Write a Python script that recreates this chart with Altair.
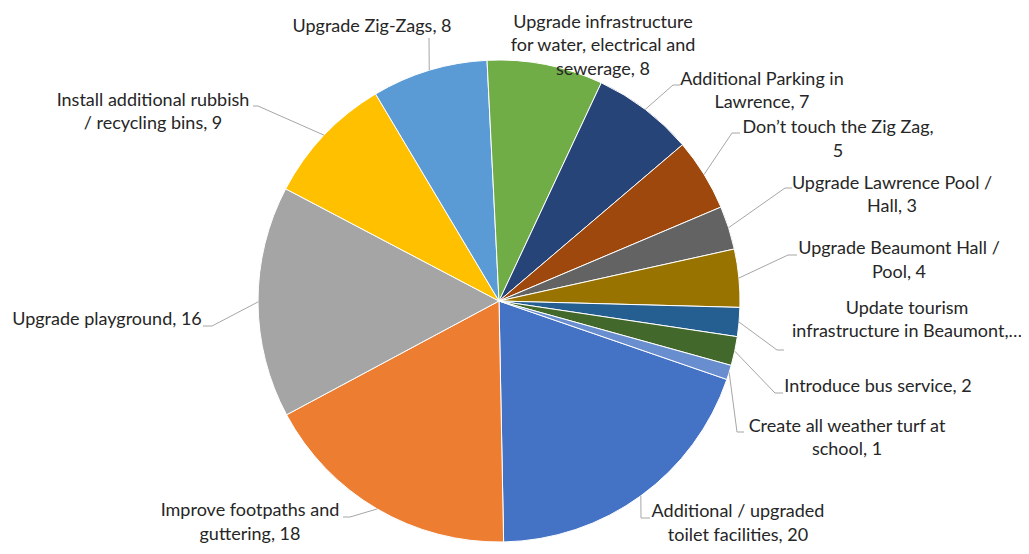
import math
import altair as alt
import pandas as pd

# ---------------- data ----------------
categories = [
    "Additional / upgraded toilet facilities",
    "Improve footpaths and guttering",
    "Upgrade playground",
    "Install additional rubbish / recycling bins",
    "Upgrade Zig-Zags",
    "Upgrade infrastructure for water, electrical and sewerage",
    "Additional Parking in Lawrence",
    "Don’t touch the Zig Zag",
    "Upgrade Lawrence Pool / Hall",
    "Upgrade Beaumont Hall / Pool",
    "Update tourism infrastructure in Beaumont",
    "Introduce bus service",
    "Create all weather turf at school",
]
values = [20, 18, 16, 9, 8, 8, 7, 5, 3, 4, 2, 2, 1]
label_text = [
    "Additional / upgraded\ntoilet facilities, 20",
    "Improve footpaths and\nguttering, 18",
    "Upgrade playground, 16",
    "Install additional rubbish\n/ recycling bins, 9",
    "Upgrade Zig-Zags, 8",
    "Upgrade infrastructure\nfor water, electrical and\nsewerage, 8",
    "Additional Parking in\nLawrence, 7",
    "Don’t touch the Zig Zag,\n5",
    "Upgrade Lawrence Pool /\nHall, 3",
    "Upgrade Beaumont Hall /\nPool, 4",
    "Update tourism\ninfrastructure in Beaumont,…",
    "Introduce bus service, 2",
    "Create all weather turf at\nschool, 1",
]

# ---------------- style / layout ----------------
colors = ["#4472C4", "#ED7D31", "#A5A5A5", "#FFC000", "#5B9BD5", "#70AD47",
          "#264478", "#9E480E", "#636363", "#997300", "#255E91", "#43682B", "#698ED0"]
W, H = 1013, 538          # plot size in px
CX, CY = 491, 293         # pie centre in px
R = 241                   # pie radius in px
START_DEG = 109.0         # angle of first slice (clockwise from 12 o'clock)
LH = 23.5                 # label line height

# label block centres (px relative to pie centre, y down)
label_pos = [(239, 223), (-249, 222), (-392, 19), (-346, -188.5), (-127, -274),
             (104, -255), (263, -209.5), (339, -161), (393, -105.5), (400, -40),
             (408, 19.5), (379, 86), (348, 137.5)]
# leader elbow and end points (px relative to pie centre), None = no leader
leader_pts = [
    [(142, 217), (151, 217)],
    [(-149, 216), (-156, 216)],
    [(-287, 25), (-296, 25)],
    [(-241, -195), (-246, -195)],
    [(-70, -263)],
    None,
    [(174, -216), (181, -216)],
    [(233, -168), (241, -168)],
    [(286, -113), (293, -113)],
    [(289, -46), (298, -46)],
    [(278, 49), (285, 49)],
    [(276, 92), (284, 92)],
    [(238, 131), (245, 131)],
]

# ---------------- tables ----------------
total = sum(values)
pie_df = pd.DataFrame({"cat": categories, "value": values, "idx": list(range(len(values)))})

lab_df = pd.DataFrame({
    "cat": categories,
    "label": label_text,
    "x": [p[0] for p in label_pos],
    # Vega places the first line at y; shift so the block is centred
    "y": [p[1] - (t.count("\n")) * LH / 2 for p, t in zip(label_pos, label_text)],
})

rows = []
cum = 0.0
for i, (c, v) in enumerate(zip(categories, values)):
    mid = math.radians(START_DEG + (cum + v / 2) / total * 360.0)
    cum += v
    pts = leader_pts[i]
    if pts is None:
        continue
    seq = [(R * math.sin(mid), -R * math.cos(mid))] + list(pts)
    for k, (px, py) in enumerate(seq):
        rows.append({"cat": c, "pt": k, "x": px, "y": py})
lead_df = pd.DataFrame(rows)

xs = alt.Scale(domain=[-CX, W - CX], nice=False, zero=False)
ys = alt.Scale(domain=[-CY, H - CY], nice=False, zero=False, reverse=True)

a0 = math.radians(START_DEG)
pie = alt.Chart(pie_df).mark_arc(outerRadius=R, stroke="white", strokeWidth=1).encode(
    theta=alt.Theta("value:Q", stack=True, scale=alt.Scale(range=[a0, a0 + 2 * math.pi])),
    color=alt.Color("cat:N", scale=alt.Scale(domain=categories, range=colors), legend=None),
    order=alt.Order("idx:Q"),
    x=alt.value(CX),
    y=alt.value(CY),
)

leaders = alt.Chart(lead_df).mark_line(color="#A6A6A6", strokeWidth=1).encode(
    x=alt.X("x:Q", scale=xs, axis=None),
    y=alt.Y("y:Q", scale=ys, axis=None),
    detail="cat:N",
    order="pt:Q",
)

labels = alt.Chart(lab_df).mark_text(
    font="Lato", fontSize=18, lineBreak="\n", lineHeight=LH,
    color="#262626", align="center", baseline="middle",
).encode(
    x=alt.X("x:Q", scale=xs, axis=None),
    y=alt.Y("y:Q", scale=ys, axis=None),
    text="label:N",
)

chart = alt.layer(pie, leaders, labels).properties(
    width=W, height=H, padding=0,
    autosize=alt.AutoSizeParams(type="none"),
).configure_view(stroke=None)

chart.save("out.html", embed_options={"renderer": "svg", "actions": False})
